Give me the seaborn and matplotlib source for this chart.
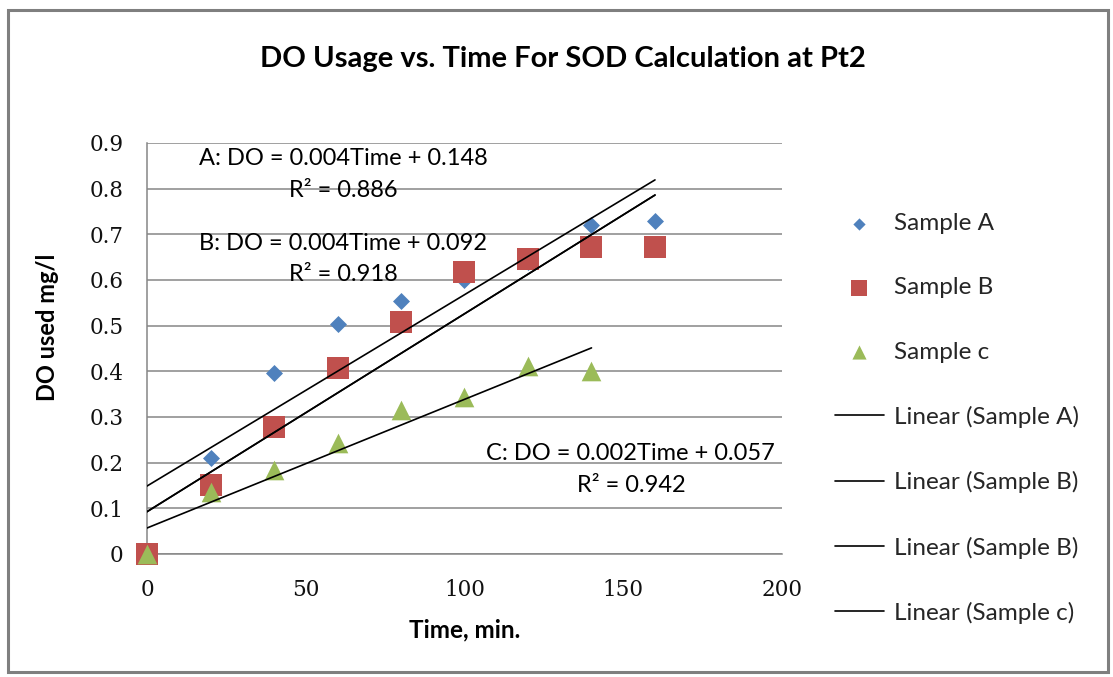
import numpy as np
import pandas as pd
import matplotlib
matplotlib.use("Agg")
import matplotlib.pyplot as plt
from matplotlib.patches import Rectangle
import seaborn as sns

# ---- data ----
time_min = [0, 20, 40, 60, 80, 100, 120, 140, 160]
sample_a = [0.0, 0.211, 0.396, 0.504, 0.555, 0.601, 0.640, 0.720, 0.729]
sample_b = [0.0, 0.152, 0.278, 0.407, 0.508, 0.617, 0.646, 0.673, 0.673]
time_c = [0, 20, 40, 60, 80, 100, 120, 140]
sample_c = [0.0, 0.135, 0.184, 0.244, 0.315, 0.343, 0.412, 0.400]

title = "DO Usage vs. Time For SOD Calculation at Pt2"
x_label = "Time, min."
y_label = "DO used mg/l"
eq_a = ["A: DO = 0.004Time + 0.148", "R\u00b2 = 0.886"]
eq_b = ["B: DO = 0.004Time + 0.092", "R\u00b2 = 0.918"]
eq_c = ["C: DO = 0.002Time + 0.057", "R\u00b2 = 0.942"]

df_a = pd.DataFrame({"t": time_min, "v": sample_a})
df_b = pd.DataFrame({"t": time_min, "v": sample_b})
df_c = pd.DataFrame({"t": time_c, "v": sample_c})

sns.set_theme(style="white")
plt.rcParams["font.family"] = ["Lato", "DejaVu Sans"]

W, H = 1113, 677
fig = plt.figure(figsize=(W / 100, H / 100), dpi=100)
L, R, T, B = 147, 782, 143, 554
ax = fig.add_axes([L / W, 1 - B / H, (R - L) / W, (B - T) / H])

blue, red, green = "#4F81BD", "#C0504D", "#9BBB59"

sns.scatterplot(data=df_a, x="t", y="v", ax=ax, marker="D", s=75, color=blue,
                edgecolor=blue, linewidth=0, label="Sample A", zorder=3, clip_on=False)
sns.scatterplot(data=df_b, x="t", y="v", ax=ax, marker="s", s=250, color=red,
                edgecolor=red, linewidth=0, label="Sample B", zorder=4, clip_on=False)
sns.scatterplot(data=df_c, x="t", y="v", ax=ax, marker="^", s=200, color=green,
                edgecolor=green, linewidth=0, label="Sample c", zorder=5, clip_on=False)

lk = dict(color="black", lw=1.2, zorder=6)
sns.regplot(data=df_a, x="t", y="v", ax=ax, scatter=False, ci=None, truncate=True,
            label="Linear (Sample A)", line_kws=lk)
sns.regplot(data=df_b, x="t", y="v", ax=ax, scatter=False, ci=None, truncate=True,
            label="Linear (Sample B)", line_kws=lk)
sns.regplot(data=df_b, x="t", y="v", ax=ax, scatter=False, ci=None, truncate=True,
            label="Linear (Sample B)", line_kws=lk)
sns.regplot(data=df_c, x="t", y="v", ax=ax, scatter=False, ci=None, truncate=True,
            label="Linear (Sample c)", line_kws=lk)

if ax.get_legend() is not None:
    ax.get_legend().remove()

ax.set_xlim(0, 200)
ax.set_ylim(0, 0.9)
ax.set_xticks([0, 50, 100, 150, 200])
ax.set_yticks(np.arange(0, 0.91, 0.1))
ax.set_yticklabels(["0"] + [f"{v:.1f}" for v in np.arange(0.1, 0.91, 0.1)])
ax.set_xticklabels(["0", "50", "100", "150", "200"])

gray = "#868686"
ax.yaxis.grid(True, color=gray, lw=1.1)
ax.xaxis.grid(False)
ax.set_axisbelow(True)
for s in ["top", "right"]:
    ax.spines[s].set_visible(False)
for s in ["left", "bottom"]:
    ax.spines[s].set_color(gray)
    ax.spines[s].set_linewidth(1.1)
ax.tick_params(axis="both", which="both", direction="out", length=6, width=1,
               color=gray, labelsize=15.5)
ax.tick_params(axis="y", pad=11)
ax.tick_params(axis="x", pad=12)
for lab in ax.get_xticklabels() + ax.get_yticklabels():
    lab.set_family(["DejaVu Serif"])
    lab.set_color("#111111")

ax.set_xlabel(x_label, fontsize=17.5, fontweight="bold", color="black", va="center")
ax.set_ylabel(y_label, fontsize=17, fontweight="bold", color="black", va="center")
ax.xaxis.set_label_coords(0.5, (B - 630) / (B - T))
ax.yaxis.set_label_coords((47 - L) / (R - L), (B - 327) / (B - T))

fig.text(563 / W, 1 - 59 / H, title, ha="center", va="center", fontsize=21,
         fontweight="bold", color="black")

tk = dict(ha="center", va="center", fontsize=17, color="black", zorder=7)
ax.text(61.7, 0.867, eq_a[0], **tk)
ax.text(61.7, 0.797, eq_a[1], **tk)
ax.text(61.7, 0.681, eq_b[0], **tk)
ax.text(61.7, 0.611, eq_b[1], **tk)
ax.text(152.1, 0.221, eq_c[0], **tk)
ax.text(152.4, 0.151, eq_c[1], **tk)

handles, labels = ax.get_legend_handles_labels()
leg = fig.legend(handles, labels, loc="upper left", bbox_to_anchor=(835 / W, 1 - 213 / H),
                 frameon=False, fontsize=17.5, handlelength=2.0, handletextpad=0.42,
                 labelspacing=1.78, borderaxespad=0, borderpad=0, markerscale=0.72)

fig.add_artist(Rectangle((8 / W, 1 - 672 / H), (1108 - 8) / W, (672 - 10) / H,
                         transform=fig.transFigure, fill=False, edgecolor="#7F7F7F",
                         lw=2.2))

fig.savefig("out.png", dpi=100)
